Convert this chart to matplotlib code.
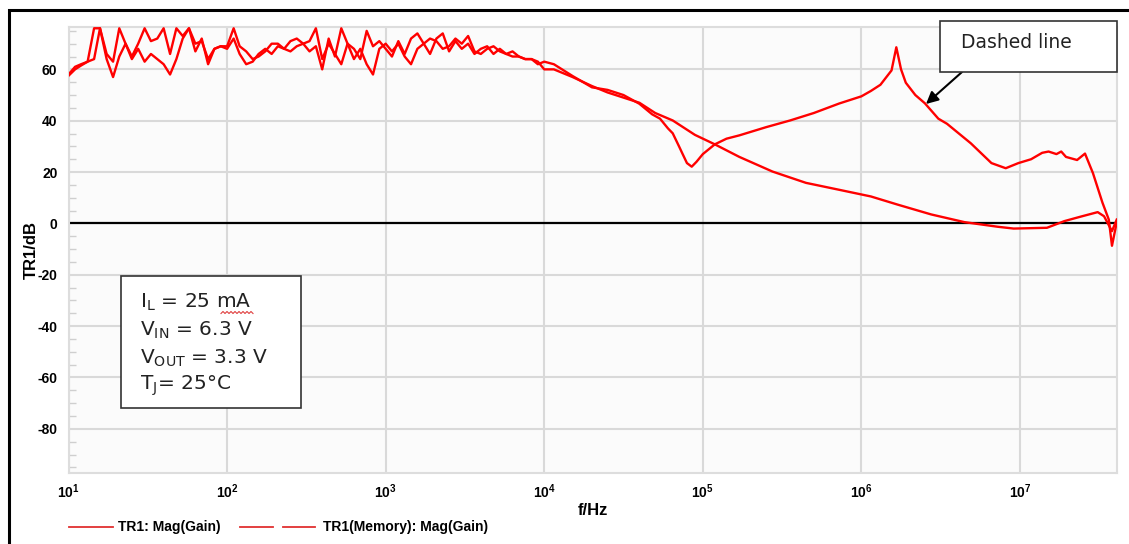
import numpy as np
import matplotlib
matplotlib.use("Agg")
import matplotlib.pyplot as plt
from matplotlib.lines import Line2D
from matplotlib.patches import Rectangle
from matplotlib.ticker import FixedLocator, LogFormatterSciNotation, MultipleLocator, NullLocator

# ---------------- data ----------------
# low-frequency (noisy) region, shared frequency grid in Hz
noise_freq = [10, 11, 12, 13.2, 14.5, 15.8, 17.4, 19.1, 20.9, 22.9, 25.1, 27.5, 30.2, 33.1,
              36.3, 39.8, 43.7, 47.9, 52.5, 57.5, 63.1, 69.2, 75.9, 83.2, 91.2,
              100, 110, 120, 132, 145, 158, 174, 191, 209, 229, 251, 275, 302, 331,
              363, 398, 437, 479, 525, 575, 631, 692, 759, 832, 912,
              1000, 1096, 1202, 1318, 1445, 1585, 1738, 1905, 2089, 2291, 2512, 2754,
              3020, 3311, 3631, 3981, 4365, 4786, 5248, 5754, 6310, 6918, 7586, 8318,
              9120, 10000]
gain_noise = [57.5, 60, 61.5, 63, 76, 76, 66, 63, 76, 70, 65, 70, 76, 71,
              72, 76, 66, 76, 73, 76, 67, 72, 62, 68, 69,
              69, 76, 69, 67, 64, 65, 67, 70, 70, 68, 71, 72, 70, 71,
              76, 64, 70, 66, 62, 70, 68, 64, 75, 69, 71,
              68, 65, 71, 66, 72, 74, 70, 72, 71, 68, 69, 72,
              70, 73, 67, 66, 68, 69, 67, 66, 65, 65, 64, 64,
              62, 63]
memory_noise = [58, 61, 62, 63, 64, 76, 64, 57, 65, 70, 64, 68, 63, 66,
                64, 62, 58, 64, 72, 76, 70, 71, 64, 68, 69,
                68, 72, 66, 62, 63, 66, 68, 66, 69, 68, 67, 69, 70, 67,
                69, 60, 72, 65, 76, 70, 64, 68, 62, 58, 68,
                70, 67, 70, 65, 62, 68, 70, 66, 72, 74, 67, 71,
                68, 70, 66, 68, 69, 66, 68, 66, 67, 65, 64, 64,
                63, 60]

# high-frequency part of the "Gain" trace (with resonance peak)
gain_tail_freq = [11500, 15100, 20000, 25100, 31600, 39800, 47900, 53700, 60300, 64600,
                  70800, 74100, 79400, 85100, 91200, 100000, 119000, 141000, 170000,
                  251000, 355000, 501000, 724000, 1.0e6, 1.148e6, 1.318e6, 1.549e6,
                  1.66e6, 1.778e6, 1.905e6, 2.188e6, 2.512e6, 3.055e6, 3.467e6, 4.898e6,
                  6.607e6, 8.128e6, 9.772e6, 1.175e7, 1.38e7, 1.514e7, 1.698e7, 1.82e7,
                  1.95e7, 2.291e7, 2.57e7, 2.884e7, 3.311e7, 3.631e7, 3.802e7, 4.074e7]
gain_tail = [62, 57.4, 53, 52, 50, 46.6, 42.5, 40.8, 37, 35.1,
             30, 27.4, 23.5, 22.1, 24, 27, 30.8, 33, 34.3,
             37.5, 40.1, 43, 46.7, 49.5, 51.6, 54, 59.6,
             68.6, 60, 54.8, 50, 46.8, 40.8, 38.8, 31.2,
             23.5, 21.5, 23.5, 25, 27.5, 28, 27, 28,
             25.9, 24.7, 27.2, 19.6, 8.1, 1.5, -8.7, 0.4]

# high-frequency part of the "Memory" trace
memory_tail_freq = [11500, 15100, 20000, 25100, 31600, 39800, 50100, 64600, 89100, 119000,
                    170000, 275000, 447000, 724000, 1.148e6, 1.698e6, 2.754e6, 4.467e6,
                    7.244e6, 9.12e6, 1.479e7, 1.905e7, 2.399e7, 3.09e7, 3.388e7, 3.802e7,
                    4.074e7]
memory_tail = [60, 57, 53.5, 51, 49, 47, 43, 40.1, 34.5, 30.8,
               25.9, 20.2, 15.8, 13.1, 10.5, 7.3, 3.5, 0.5,
               -1.3, -2, -1.7, 0.9, 2.6, 4.4, 2.8, -3, 1.5]

x_ticks = [1e1, 1e2, 1e3, 1e4, 1e5, 1e6, 1e7]
y_ticks = [-80, -60, -40, -20, 0, 20, 40, 60]
legend_labels = ["TR1: Mag(Gain)", "TR1(Memory): Mag(Gain)"]
info_lines = [r"I$_\mathregular{L}$ = 25 mA", r"V$_\mathregular{IN}$ = 6.3 V",
              r"V$_\mathregular{OUT}$ = 3.3 V", r"T$_\mathregular{J}$= 25°C"]
callout_text = "Dashed line"

# ---------------- figure ----------------
plt.rcParams['mathtext.default'] = 'regular'
plt.rcParams['axes.unicode_minus'] = False
W, H = 1129, 544
fig = plt.figure(figsize=(W / 100, H / 100), dpi=100)


def fx(px):
    return px / W


def fy(py):
    return 1 - py / H


ax_l, ax_r, ax_t, ax_b = 68.5, 1117, 27, 473
ax = fig.add_axes([fx(ax_l), fy(ax_b), (ax_r - ax_l) / W, (ax_b - ax_t) / H])
ax.set_facecolor('#fbfbfb')

red = '#ff0000'
gain_f = noise_freq + gain_tail_freq
gain_v = gain_noise + gain_tail
mem_f = noise_freq + memory_tail_freq
mem_v = memory_noise + memory_tail

ax.plot(mem_f, mem_v, color=red, lw=1.7, zorder=3)
ax.plot(gain_f, gain_v, color=red, lw=1.7, zorder=3)
ax.axhline(0, color='black', lw=1.6, zorder=2)

ax.set_xscale('log')
ax.set_xlim(10, 4.09e7)
ax.set_ylim(-97.2, 76.5)

ax.xaxis.set_major_locator(FixedLocator(x_ticks))
ax.xaxis.set_major_formatter(LogFormatterSciNotation())
ax.xaxis.set_minor_locator(NullLocator())
ax.yaxis.set_major_locator(FixedLocator(y_ticks))
ax.yaxis.set_minor_locator(MultipleLocator(5))

ax.grid(True, which='major', color='#d9d9d9', lw=1.5, zorder=1)
ax.tick_params(axis='both', which='major', length=0, pad=8)
ax.tick_params(axis='x', which='major', pad=7)
ax.tick_params(axis='y', which='minor', direction='in', length=5, color='#cfcfcf', width=1)
for lab in ax.get_xticklabels() + ax.get_yticklabels():
    lab.set_fontfamily('Liberation Sans')
    lab.set_fontweight('bold')
    lab.set_fontsize(10)

for s in ax.spines.values():
    s.set_color('#dddddd')
    s.set_linewidth(1.5)

ax.set_xlabel('f/Hz', fontfamily='Liberation Sans', fontweight='bold', fontsize=12, labelpad=1)
ax.set_ylabel('TR1/dB', fontfamily='Liberation Sans', fontweight='bold', fontsize=12, labelpad=-1)

# outer frame of the picture
fig.patches.append(Rectangle((fx(8.5), fy(H + 20)), 1.2, fy(10) - fy(H + 20),
                             transform=fig.transFigure, fill=False, edgecolor='black',
                             lw=2.2, zorder=0))

# info box
fig.patches.append(Rectangle((fx(121), fy(408)), (301 - 121) / W, (408 - 276) / H,
                             transform=fig.transFigure, facecolor='white',
                             edgecolor='#333333', lw=1.2, zorder=5))
for i, t in enumerate(info_lines):
    fig.text(fx(140), fy(302 + i * 28), t, fontsize=14.5, fontfamily='DejaVu Sans',
             va='center', ha='left', color='#222222', zorder=6)
# red spell-check squiggle under "mA"
sq_x = np.linspace(221, 253, 17)
sq_y = np.where(np.arange(17) % 2 == 0, 313.5, 311.5)
fig.lines.append(Line2D(fx(sq_x), fy(sq_y), transform=fig.transFigure,
                        color='#e04040', lw=0.8, zorder=7))

# callout box
fig.patches.append(Rectangle((fx(940), fy(72)), (1117 - 940) / W, (72 - 21) / H,
                             transform=fig.transFigure, facecolor='white',
                             edgecolor='#333333', lw=1.2, zorder=5))
fig.text(fx(1016), fy(43), callout_text, fontsize=13.5, fontfamily='DejaVu Sans',
         va='center', ha='center', color='#222222', zorder=6)
ax.annotate('', xy=(fx(926), fy(104)), xycoords='figure fraction',
            xytext=(fx(962), fy(72)), textcoords='figure fraction',
            arrowprops=dict(arrowstyle='-|>', color='black', lw=1.5,
                            mutation_scale=18, shrinkA=0, shrinkB=0),
            zorder=6)

# legend (drawn manually to match the instrument's layout)
leg_y = 527
leg_col = '#e03030'
fig.lines.append(Line2D([fx(69), fx(113)], [fy(leg_y), fy(leg_y)], transform=fig.transFigure,
                        color=leg_col, lw=1.3))
fig.text(fx(118), fy(leg_y), legend_labels[0], fontfamily='Liberation Sans', fontweight='bold',
         fontsize=10, va='center', ha='left')
fig.lines.append(Line2D([fx(240), fx(273)], [fy(leg_y), fy(leg_y)], transform=fig.transFigure,
                        color=leg_col, lw=1.3))
fig.lines.append(Line2D([fx(283), fx(315)], [fy(leg_y), fy(leg_y)], transform=fig.transFigure,
                        color=leg_col, lw=1.3))
fig.text(fx(323), fy(leg_y), legend_labels[1], fontfamily='Liberation Sans', fontweight='bold',
         fontsize=10, va='center', ha='left')

fig.savefig('out.png', dpi=100)
